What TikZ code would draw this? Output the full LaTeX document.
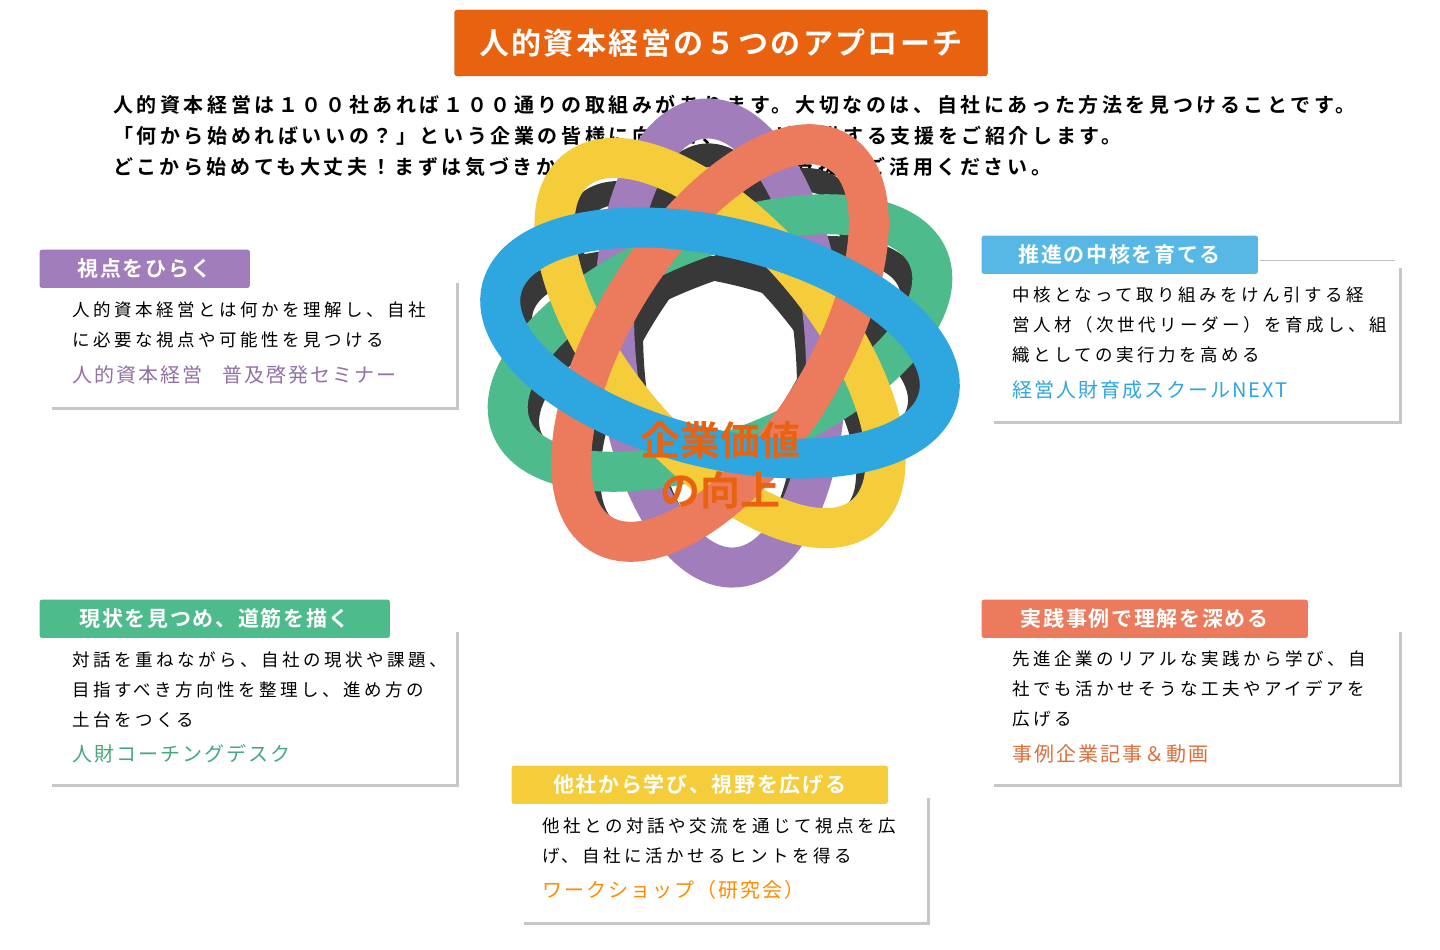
\documentclass[tikz,border=0pt]{standalone}
\usepackage{fontspec}
\setmainfont{Noto Sans CJK JP}
\newfontfamily\jpb{Noto Sans CJK JP Bold}
\newfontfamily\jpbs[LetterSpace=18]{Noto Sans CJK JP Bold}
\newfontfamily\jpbl[LetterSpace=8]{Noto Sans CJK JP Bold}
\newfontfamily\jps[LetterSpace=20]{Noto Sans CJK JP}
\newfontfamily\jpl[LetterSpace=10]{Noto Sans CJK JP}
\begin{document}
\begin{tikzpicture}[x=1pt,y=-1pt,
 lab/.style={draw=white,line width=1.5pt,rounded corners=3pt,minimum height=40pt,anchor=north west,inner sep=0pt,text=white,font=\jpbl\fontsize{21}{24}\selectfont},
 body/.style={anchor=north west,align=left,font=\jps\fontsize{17.5}{30}\selectfont,inner sep=0pt},
 lnk/.style={anchor=north west,inner sep=0pt,font=\jpl\fontsize{20}{24}\selectfont},
 pan/.style={draw=black!22,line width=3pt},
 rib/.style={line width=40pt},
 back/.style={line width=24pt,draw=black!78}]
\definecolor{org}{HTML}{E8620F}
\definecolor{pur}{HTML}{A27DBB}
\definecolor{blu}{HTML}{2EA6DF}
\definecolor{red}{HTML}{EC7A5C}
\definecolor{yel}{HTML}{F5CC3A}
\definecolor{grn}{HTML}{4DBB8C}
\useasboundingbox (0,0) rectangle (1440,950);
\fill[white] (0,0) rectangle (1440,950);
% title
\node[fill=org,draw=org!80!black,rounded corners=3pt,minimum width=533pt,minimum height=66pt,text=white,font=\jpbl\fontsize{30}{34}\selectfont] (title) at (721,43) {人的資本経営の５つのアプローチ};
\node[anchor=north west,align=left,inner sep=0pt,font=\jpbs\fontsize{20}{31}\selectfont] (intro) at (113,95) {人的資本経営は１００社あれば１００通りの取組みがあります。大切なのは、自社にあった方法を見つけることです。\\「何から始めればいいの？」という企業の皆様に向けて、公社が提供する支援をご紹介します。\\どこから始めても大丈夫！まずは気づきから、一歩ずつ。公社の支援をご活用ください。};
% ribbons
\coordinate (C) at (720,475);
\foreach \ang in {184,256,328,40,112}{
 \draw[back,rotate around={\ang+90:(720,475)}] (720,475) ++(\ang:115) ellipse (205 and 88);}
\foreach \ang/\col in {184/pur,112/grn,40/yel,328/red,256/blu}{
 \draw[rib,draw=\col,rotate around={\ang+90:(720,475)}] (720,475) ++(\ang:132) ellipse (225 and 105);}
\node[text=org,align=center,font=\jpb\fontsize{40}{50}\selectfont] (center) at (720,465) {企業価値\\の向上};
% panels
\draw[pan] (52,408) -- (457,408) -- (457,283);
\node[lab,fill=pur,minimum width=212pt] (l1) at (38,248) {視点をひらく};
\node[body] (b1) at (72,302) {人的資本経営とは何かを理解し、自社\\に必要な視点や可能性を見つける};
\node[lnk,text=pur!90!black] (k1) at (72,365) {人的資本経営\quad 普及啓発セミナー};

\draw[pan] (994,422) -- (1400,422) -- (1400,268);
\draw[black!25] (1258,260) -- (1395,260);
\node[lab,fill=blu!80!white,minimum width=278pt] (l2) at (980,234) {推進の中核を育てる};
\node[body] (b2) at (1012,287) {中核となって取り組みをけん引する経\\営人材（次世代リーダー）を育成し、組\\織としての実行力を高める};
\node[lnk,text=blu] (k2) at (1012,380) {経営人財育成スクールNEXT};

\draw[pan] (52,785) -- (457,785) -- (457,632);
\node[lab,fill=grn,minimum width=352pt] (l3) at (38,598) {現状を見つめ、道筋を描く};
\node[body] (b3) at (72,651) {対話を重ねながら、自社の現状や課題、\\目指すべき方向性を整理し、進め方の\\土台をつくる};
\node[lnk,text=grn!90!black] (k3) at (72,744) {人財コーチングデスク};

\draw[pan] (994,785) -- (1400,785) -- (1400,632);
\node[lab,fill=red,minimum width=328pt] (l4) at (980,598) {実践事例で理解を深める};
\node[body] (b4) at (1012,651) {先進企業のリアルな実践から学び、自\\社でも活かせそうな工夫やアイデアを\\広げる};
\node[lnk,text=red!70!orange!90!black] (k4) at (1012,744) {事例企業記事＆動画};

\draw[pan] (524,923) -- (928,923) -- (928,798);
\node[lab,fill=yel,minimum width=378pt] (l5) at (510,764) {他社から学び、視野を広げる};
\node[body] (b5) at (542,818) {他社との対話や交流を通じて視点を広\\げ、自社に活かせるヒントを得る};
\node[lnk,text=orange!90!yellow] (k5) at (542,880) {ワークショップ（研究会）};
\end{tikzpicture}
\end{document}
